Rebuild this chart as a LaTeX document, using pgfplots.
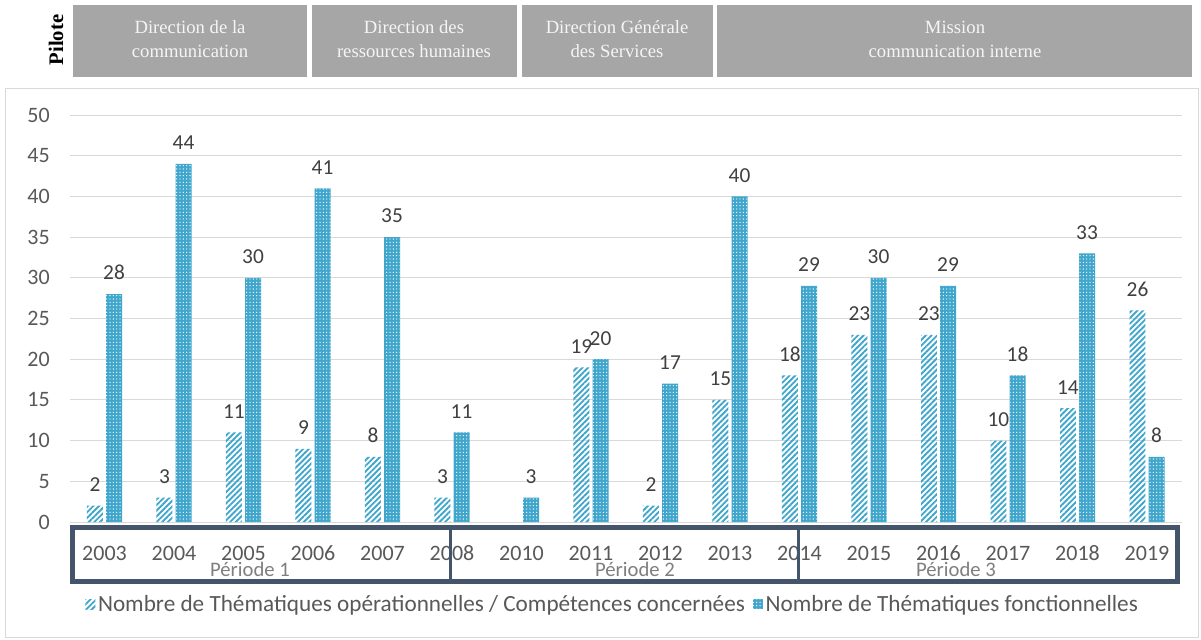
\documentclass[border=0pt]{standalone}
\usepackage{fontspec}
\setmainfont{Carlito}
\newfontfamily\hdr{Liberation Serif}
\usepackage{pgfplots}
\pgfplotsset{compat=1.18}
\usetikzlibrary{patterns.meta}
\definecolor{barblue}{RGB}{64,166,204}
\definecolor{hdrgray}{RGB}{166,166,166}
\definecolor{hdrtext}{RGB}{245,245,245}
\definecolor{framegray}{RGB}{217,217,217}
\definecolor{gridgray}{RGB}{217,217,217}
\definecolor{ticktext}{RGB}{89,89,89}
\definecolor{labeltext}{RGB}{64,64,64}
\definecolor{navy}{RGB}{68,84,106}
\definecolor{pertext}{RGB}{127,127,127}
\begin{document}
\begin{tikzpicture}
\useasboundingbox (0,0) rectangle (900.75pt,-479.25pt);
\begin{scope}[x=0.75pt,y=-0.75pt]
\draw[fill=white, draw=framegray, line width=0.75pt] (5,88) rectangle (1198,637);
\fill[hdrgray] (73,5) rectangle (307,77);
\fill[hdrgray] (312,5) rectangle (517,77);
\fill[hdrgray] (522,5) rectangle (713,77);
\fill[hdrgray] (717,5) rectangle (1192,77);
\tikzset{hdrnode/.style={text=hdrtext, align=center, font=\hdr\fontsize{14}{18}\selectfont}}
\node[hdrnode] at (190,39) {Direction de la\\communication};
\node[hdrnode] at (414,39) {Direction des\\ressources humaines};
\node[hdrnode] at (617,39) {Direction Générale\\des Services};
\node[hdrnode] at (955,39) {Mission\\communication interne};
\node[rotate=90, font=\hdr\bfseries\fontsize{15.5}{17}\selectfont] at (56,40) {Pilote};
\end{scope}
\begin{axis}[
  at={(52.3125pt,-391.5pt)}, anchor=south west,
  width=834pt, height=305.25pt, scale only axis,
  xmin=-0.5, xmax=15.5, ymin=0, ymax=50,
  ytick={0,5,...,50},
  xtick={0,...,15},
  xticklabels={2003,2004,2005,2006,2007,2008,2010,2011,2012,2013,2014,2015,2016,2017,2018,2019},
  ymajorgrids, grid style={draw=gridgray, line width=0.75pt},
  axis line style={draw=none},
  major tick length=0,
  tick label style={font=\fontsize{16.5}{18}\selectfont, text=ticktext},
  yticklabel style={anchor=east, xshift=-11.5pt},
  xticklabel style={anchor=base, yshift=-28.5pt},
  /pgf/number format/assume math mode=true,
  ybar, bar width=0.23,
  nodes near coords,
  every node near coord/.append style={font=\fontsize{16}{18}\selectfont, text=labeltext, yshift=7pt},
  clip=false,
  legend columns=2,
  legend style={at={(0.4885,-0.2015)}, anchor=center, draw=none, fill=none,
    font=\fontsize{17.4}{19}\selectfont, text=ticktext,
    /tikz/every even column/.append style={column sep=4pt}},
  legend image code/.code={\path[#1] (-2.5pt,-3.75pt) rectangle (5pt,3.75pt);},
]
\addplot[draw=none, bar shift=-0.137, pattern={Lines[angle=45,distance=3pt,line width=1.4pt]}, pattern color=barblue]
  coordinates {(0,2) (1,3) (2,11) (3,9) (4,8) (5,3) (7,19) (8,2) (9,15) (10,18) (11,23) (12,23) (13,10) (14,14) (15,26)};
\addplot[draw=none, bar shift=0.137, fill=barblue, postaction={pattern={Dots[radius=0.5pt,distance=2.5pt]}, pattern color=white}]
  coordinates {(0,28) (1,44) (2,30) (3,41) (4,35) (5,11) (6,3) (7,20) (8,17) (9,40) (10,29) (11,30) (12,29) (13,18) (14,33) (15,8)};
\legend{Nombre de Thématiques opérationnelles / Compétences concernées, Nombre de Thématiques fonctionnelles}
\end{axis}
\begin{scope}[x=0.75pt,y=-0.75pt]
\draw[navy, line width=3.75pt] (72,527.5) rectangle (1177,581);
\draw[navy, line width=2.25pt] (450,527.5) -- (450,581);
\draw[navy, line width=2.25pt] (798.5,527.5) -- (798.5,581);
\tikzset{pernode/.style={text=pertext, font=\fontsize{15.5}{17}\selectfont, anchor=base}}
\node[pernode] at (250,576) {Période 1};
\node[pernode] at (635,576) {Période 2};
\node[pernode] at (956,576) {Période 3};
\end{scope}
\end{tikzpicture}
\end{document}
